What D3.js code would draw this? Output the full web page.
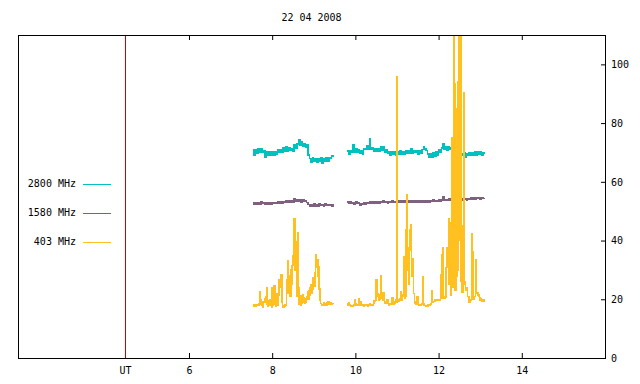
<!DOCTYPE html>
<html>
<head>
<meta charset="utf-8">
<script src="https://cdn.jsdelivr.net/npm/d3@7"></script>
<style>
  body { margin: 0; background: #fff; }
  svg text { font-family: "DejaVu Sans Mono", monospace; font-size: 10px; fill: #000; }
</style>
</head>
<body>
<div id="chart-area"></div>
<script>
// chart values
var title = "22 04 2008";
var xTicks = [6, 8, 10, 12, 14];
var yTicks = [0, 20, 40, 60, 80, 100];
var utHour = 4.45;
var legendLabels = ["2800 MHz", "1580 MHz", "403 MHz"];

// two recording segments (start hour, UT)
var segStart = [7.53, 9.80];
var stepSlow = 1 / 30;   // 2 min samples
var stepFast = 1 / 60;   // 1 min samples

var f2800a = [70.8, 69.2, 70.9, 69.8, 71.3, 70.0, 71.2, 69.9, 70.6, 68.4,
  70.3, 69.1, 70.2, 69.0, 70.1, 69.2, 70.4, 69.3, 70.8, 69.9,
  71.0, 70.0, 71.7, 70.5, 71.8, 70.4, 71.5, 70.6, 71.4, 70.5,
  72.6, 71.4, 72.9, 74.2, 72.6, 73.8, 72.0, 72.9, 71.7, 72.6,
  69.2, 67.9, 66.8, 68.1, 66.9, 68.0, 66.7, 67.9, 66.9, 68.2,
  66.3, 67.8, 67.0, 68.1, 67.1, 68.2, 67.9, 69.0, 68.4];
var f2800b = [70.5, 69.4, 70.6, 70.2, 72.7, 70.1, 71.2, 70.0, 71.0, 69.8,
  70.6, 69.5, 71.2, 71.0, 72.3, 71.1, 74.8, 71.0, 71.6, 70.4,
  71.4, 70.3, 71.2, 70.5, 72.0, 70.9, 71.9, 70.1, 70.8, 69.6,
  70.4, 69.2, 70.3, 69.3, 70.2, 69.1, 70.4, 69.4, 70.6, 69.3,
  70.1, 69.5, 70.7, 69.6, 70.5, 69.8, 71.2, 69.6, 70.6, 69.9,
  70.5, 69.5, 70.7, 69.8, 71.0, 72.0, 71.2, 70.6, 69.4, 68.4,
  69.6, 68.5, 69.8, 68.8, 70.1, 69.2, 70.9, 70.2, 71.5, 73.0,
  71.2, 72.0, 70.9, 71.8, 71.0, 71.6, 70.2, 69.4, 70.0, 68.8,
  69.7, 68.5, 69.6, 68.9, 69.8, 68.3, 69.5, 68.9, 70.0, 69.0,
  69.8, 69.1, 70.2, 69.2, 70.1, 69.3, 70.2, 69.1, 70.0, 69.4];

var f1580a = [52.9, 52.4, 53.0, 52.3, 52.8, 52.5, 53.1, 52.6, 52.9, 52.2,
  53.0, 52.5, 52.8, 52.4, 53.0, 52.6, 52.9, 52.7, 53.1, 52.7,
  53.2, 52.8, 53.3, 52.9, 53.4, 53.0, 53.6, 53.1, 53.5, 53.2,
  54.1, 53.3, 53.8, 53.4, 53.9, 53.2, 53.8, 53.3, 53.7, 53.0,
  52.2, 51.6, 52.3, 51.8, 52.4, 51.7, 52.3, 51.8, 52.4, 51.9,
  52.3, 51.7, 52.4, 51.9, 52.3, 51.9, 52.2, 51.8, 52.3];
var f1580b = [53.1, 52.6, 53.2, 52.7, 53.0, 52.5, 53.1, 52.6, 52.8, 52.1,
  52.7, 52.2, 52.9, 52.5, 53.0, 52.6, 53.2, 52.8, 53.3, 52.8,
  53.1, 52.7, 53.3, 52.8, 53.2, 52.9, 53.4, 52.9, 53.2, 52.8,
  53.3, 52.9, 53.5, 53.0, 53.3, 52.9, 53.4, 53.0, 53.5, 53.1,
  53.4, 53.0, 53.6, 53.1, 53.4, 53.0, 53.5, 53.1, 53.6, 53.2,
  53.5, 53.1, 53.7, 53.2, 53.5, 53.1, 53.6, 53.2, 53.5, 53.2,
  53.7, 53.3, 53.8, 53.3, 53.6, 53.4, 53.9, 53.4, 53.8, 54.8,
  53.7, 54.0, 53.6, 54.1, 53.7, 54.2, 53.6, 54.0, 53.7, 54.1,
  53.6, 54.0, 53.8, 54.2, 53.9, 54.1, 53.8, 54.3, 54.0, 54.5,
  54.1, 54.6, 54.2, 54.5, 54.3, 54.7, 54.2, 54.6, 54.3, 54.5];

var f403a = [17.7, 18.0, 17.5, 17.9, 17.6, 18.1, 17.8, 18.3, 18.0, 18.6,
  22.5, 19.8, 18.2, 18.0, 19.2, 17.4, 18.9, 20.3, 19.0, 20.8,
  24.0, 18.4, 17.5, 19.6, 18.1, 19.9, 18.0, 17.3, 23.8, 18.0,
  19.2, 24.6, 18.2, 17.5, 22.0, 20.0, 18.0, 21.5, 26.5, 24.0,
  28.2, 28.5, 19.0, 17.6, 17.4, 17.9, 17.6, 18.0, 17.8, 26.5,
  33.2, 22.0, 24.5, 28.0, 21.0, 30.0, 25.0, 31.5, 34.8, 36.2,
  47.5, 30.0, 39.5, 29.0, 21.0, 42.5, 24.0, 18.2, 19.0, 17.8,
  21.2, 18.5, 21.5, 19.0, 20.5, 18.8, 20.3, 19.0, 21.0, 22.5,
  20.0, 23.0, 21.5, 24.0, 25.0, 22.0, 27.5, 23.5, 26.0, 29.0,
  24.5, 35.2, 31.0, 33.5, 28.0, 31.0, 23.5, 19.5, 18.5, 18.0,
  18.3, 17.9, 18.2, 18.8, 18.0, 18.4, 18.1, 18.9, 18.3, 19.0,
  18.5, 18.2, 18.7, 18.9, 18.4, 18.6, 18.3];
var f403b = [18.1, 18.6, 18.7, 18.3, 18.0, 17.7, 17.6, 17.8, 17.6, 17.9,
  18.2, 20.0, 18.4, 18.0, 18.1, 17.8, 18.3, 20.3, 19.3, 18.1,
  19.0, 17.9, 17.8, 18.0, 17.7, 17.9, 18.1, 17.8, 17.9, 18.0,
  17.7, 18.1, 18.2, 18.6, 17.9, 18.0, 17.8, 18.1, 18.6, 19.6,
  19.2, 19.6, 26.7, 21.0, 22.0, 21.5, 19.5, 19.9, 27.2, 27.9,
  20.5, 19.5, 22.2, 19.8, 19.0, 18.6, 18.9, 20.0, 19.9, 18.5,
  18.1, 18.4, 18.6, 18.3, 19.5, 20.5, 18.2, 18.3, 19.2, 18.5,
  20.0, 19.0, 95.7, 19.5, 19.2, 19.7, 20.3, 22.6, 19.5, 19.7,
  21.0, 21.4, 34.5, 20.5, 21.0, 43.6, 55.7, 30.0, 37.4, 25.0,
  43.6, 36.8, 45.3, 28.0, 33.9, 33.0, 22.0, 19.0, 18.6, 18.4,
  18.2, 20.9, 18.3, 18.1, 18.2, 17.9, 18.0, 18.4, 18.6, 27.7,
  18.4, 18.0, 17.8, 17.7, 17.9, 17.8, 17.7, 18.0, 17.9, 17.8,
  18.2, 18.6, 22.8, 18.9, 19.2, 19.3, 19.4, 19.7, 19.6, 19.8,
  19.7, 19.6, 19.8, 19.6, 20.0, 28.3, 20.5, 35.1, 37.4, 21.0,
  20.3, 20.5, 20.8, 30.8, 37.4, 32.3, 47.5, 25.0, 36.0, 21.5,
  46.0, 75.0, 24.0, 45.0, 112, 93.3, 23.0, 85.0, 28.0, 94.0,
  30.0, 112, 40.0, 115, 26.0, 37.4, 22.5, 45.0, 90.4, 25.0,
  26.0, 23.0, 24.0, 23.5, 21.0, 20.9, 19.0, 19.4, 19.7, 20.0,
  42.4, 36.2, 20.0, 20.3, 21.0, 33.4, 24.0, 22.0, 22.3, 21.5,
  20.9, 20.5, 19.7, 20.1, 19.4, 19.8, 19.2, 19.4, 20.0, 20.0];

var series = [
  { label: legendLabels[0], color: "#00c0c0", step: stepSlow, parts: [f2800a, f2800b] },
  { label: legendLabels[1], color: "#806080", step: stepSlow, parts: [f1580a, f1580b] },
  { label: legendLabels[2], color: "#ffc020", step: stepFast, parts: [f403a, f403b] }
];

var plotLeft = 18, plotRight = 605, plotTop = 35, plotBottom = 358;

var svg = d3.select("#chart-area")
  .append("svg")
  .attr("width", 640)
  .attr("height", 384);

var x = d3.scaleLinear().domain([1.89, 16]).range([plotLeft, plotRight]);
var y = d3.scaleLinear().domain([0, 110]).range([plotBottom, plotTop]);

svg.append("clipPath").attr("id", "plot-clip")
  .append("rect")
  .attr("x", plotLeft).attr("y", plotTop)
  .attr("width", plotRight - plotLeft).attr("height", plotBottom - plotTop);

// UT marker line
var utX = Math.round(x(utHour));
svg.append("rect")
  .attr("x", utX).attr("y", plotTop)
  .attr("width", 1).attr("height", plotBottom - plotTop)
  .attr("fill", "#d00000");

// gnuplot-like stepped trace, no antialiasing
var line = d3.line()
  .curve(d3.curveStepAfter)
  .x((d) => x(d[0]))
  .y((d) => y(d[1]));

var plot = svg.append("g").attr("clip-path", "url(#plot-clip)");

series.forEach(function (s) {
  s.parts.forEach(function (vals, k) {
    plot.append("path")
      .datum(vals.map((v, i) => [segStart[k] + i * s.step, v]))
      .attr("d", line)
      .attr("fill", "none")
      .attr("stroke", s.color)
      .attr("stroke-width", 1.5)
      .attr("shape-rendering", "crispEdges");
  });
});

// axes
svg.append("g")
  .attr("transform", "translate(0," + plotBottom + ")")
  .call(d3.axisBottom(x).tickValues(xTicks).tickSize(-5).tickPadding(9))
  .call((g) => g.select(".domain").remove());

svg.append("g")
  .attr("transform", "translate(0," + plotTop + ")")
  .call(d3.axisTop(x).tickValues(xTicks).tickSize(-5).tickFormat(""))
  .call((g) => g.select(".domain").remove());

svg.append("g")
  .attr("transform", "translate(" + plotRight + ",0)")
  .call(d3.axisRight(y).tickValues(yTicks).tickSize(-4).tickPadding(6))
  .call((g) => g.select(".domain").remove());

svg.append("rect")
  .attr("x", plotLeft + 0.5).attr("y", plotTop + 0.5)
  .attr("width", plotRight - plotLeft).attr("height", plotBottom - plotTop)
  .attr("fill", "none")
  .attr("stroke", "#000");

svg.append("text")
  .attr("x", utX + 0.5)
  .attr("y", plotBottom + 9)
  .attr("dy", "0.71em")
  .attr("text-anchor", "middle")
  .text("UT");

svg.append("text")
  .attr("x", (plotLeft + plotRight) / 2)
  .attr("y", 18)
  .attr("dy", "0.32em")
  .attr("text-anchor", "middle")
  .text(title);

// legend
var legendY = [184, 213, 242];
series.forEach(function (s, i) {
  svg.append("text")
    .attr("x", 76)
    .attr("y", legendY[i])
    .attr("dy", "0.32em")
    .attr("text-anchor", "end")
    .text(s.label);
  svg.append("line")
    .attr("x1", 83).attr("x2", 111)
    .attr("y1", legendY[i] + 0.5).attr("y2", legendY[i] + 0.5)
    .attr("stroke", s.color);
});
</script>
</body>
</html>
